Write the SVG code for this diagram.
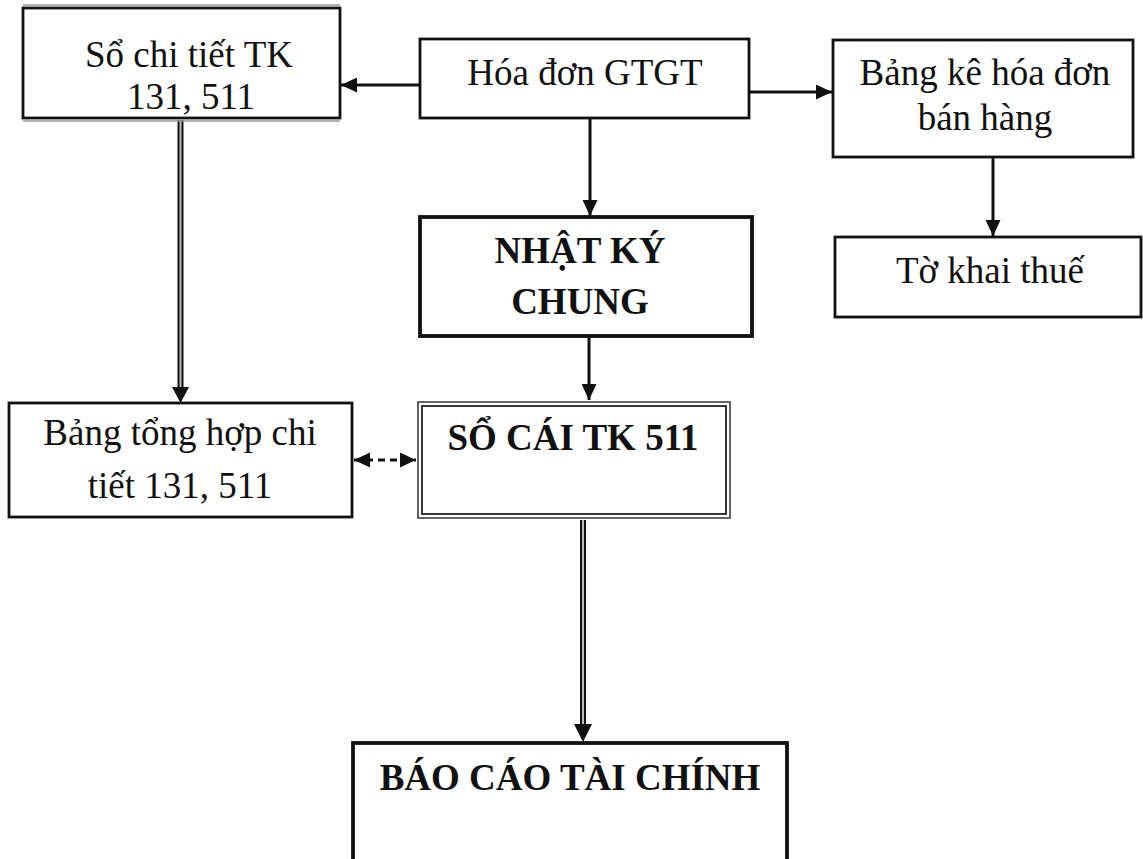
<svg xmlns="http://www.w3.org/2000/svg" width="1143" height="859" viewBox="0 0 1143 859">
<defs>
<style>
.box{fill:#fff;stroke:#111;stroke-width:2.8}
.thick{fill:#fff;stroke:#111;stroke-width:3.8}
.t{font-family:"Liberation Serif","Times New Roman",serif;font-size:37px;fill:#111;text-anchor:middle}
.b{font-weight:bold}
.ln{stroke:#111;stroke-width:3;fill:none}
.dbl{stroke:#111;stroke-width:6;fill:none}
.dbli{stroke:#bbb;stroke-width:2;fill:none}
</style>
<marker id="arr" markerUnits="userSpaceOnUse" markerWidth="16" markerHeight="15" refX="16" refY="7.5" orient="auto-start-reverse">
<path d="M0,0 L16,7.5 L0,15 z" fill="#111"/>
</marker>
</defs>
<rect width="1143" height="859" fill="#fff"/>

<g id="connectors">
<line class="ln" x1="420" y1="85" x2="341" y2="85" marker-end="url(#arr)"/>
<line class="ln" x1="749" y1="92" x2="832" y2="92" marker-end="url(#arr)"/>
<line class="ln" x1="993" y1="157" x2="993" y2="236" marker-end="url(#arr)"/>
<line class="ln" x1="590" y1="118" x2="590" y2="216" marker-end="url(#arr)"/>
<line class="ln" x1="589" y1="336" x2="589" y2="400" marker-end="url(#arr)"/>
<line class="ln" x1="354" y1="460" x2="416" y2="460" stroke-dasharray="7,5" marker-start="url(#arr)" marker-end="url(#arr)"/>
<line class="dbl" x1="180.5" y1="120" x2="180.5" y2="388"/>
<line class="dbli" x1="180.5" y1="120" x2="180.5" y2="388"/>
<polygon points="172,387 189,387 180.5,403" fill="#111"/>
<line class="dbl" x1="583" y1="520" x2="583" y2="726"/>
<line class="dbli" x1="583" y1="520" x2="583" y2="726"/>
<polygon points="574,724 592,724 583,742" fill="#111"/>
</g>

<g id="node-so-chi-tiet">
<line x1="23" y1="5" x2="340" y2="5" stroke="#999" stroke-width="1.5"/>
<line x1="23" y1="121" x2="340" y2="121" stroke="#999" stroke-width="1.5"/>
<rect class="box" x="23" y="8" width="317" height="110"/>
<text class="t" x="189" y="67">Sổ chi tiết TK</text>
<text class="t" x="191" y="109">131, 511</text>
</g>

<g id="node-hoa-don">
<rect class="box" x="420" y="39" width="329" height="79"/>
<text class="t" x="585" y="85">Hóa đơn GTGT</text>
</g>

<g id="node-bang-ke">
<rect class="box" x="833" y="40" width="300" height="117"/>
<text class="t" x="985" y="85">Bảng kê hóa đơn</text>
<text class="t" x="985" y="130">bán hàng</text>
</g>

<g id="node-to-khai">
<rect class="box" x="835" y="237" width="306" height="80"/>
<text class="t" x="990" y="283">Tờ khai thuế</text>
</g>

<g id="node-nhat-ky">
<rect class="thick" x="420" y="217" width="332" height="119"/>
<text class="t b" x="580" y="263">NHẬT KÝ</text>
<text class="t b" x="580" y="314">CHUNG</text>
</g>

<g id="node-bang-tong-hop">
<rect class="box" x="9" y="403" width="343" height="114"/>
<text class="t" x="180" y="445">Bảng tổng hợp chi</text>
<text class="t" x="180" y="498">tiết 131, 511</text>
</g>

<g id="node-so-cai">
<rect x="418" y="402" width="312" height="116" fill="#fff" stroke="#555" stroke-width="1.8"/>
<rect x="422" y="406" width="304" height="108" fill="none" stroke="#222" stroke-width="1.8"/>
<text class="t b" x="573" y="450">SỔ CÁI TK 511</text>
</g>

<g id="node-bao-cao">
<rect class="thick" x="353" y="743" width="434" height="140"/>
<text class="t b" x="570" y="790">BÁO CÁO TÀI CHÍNH</text>
</g>
</svg>
